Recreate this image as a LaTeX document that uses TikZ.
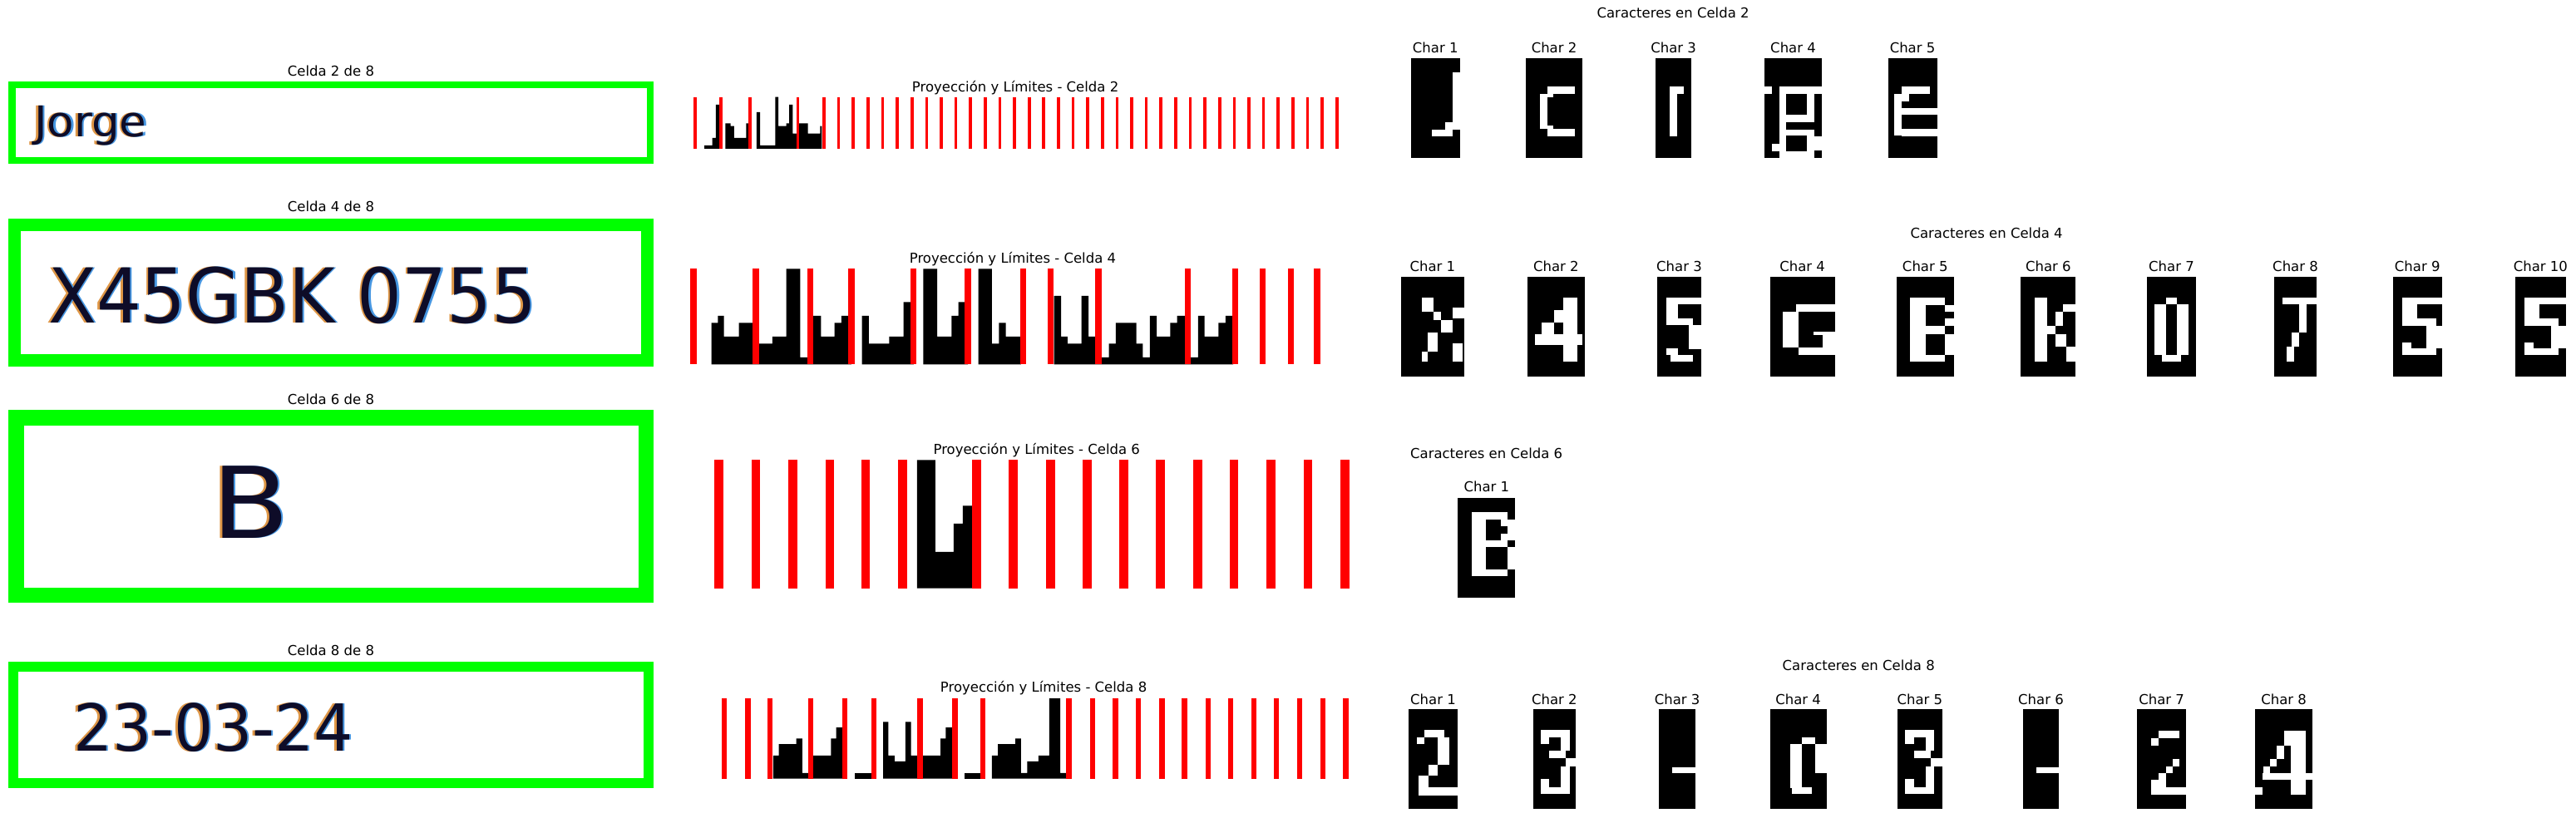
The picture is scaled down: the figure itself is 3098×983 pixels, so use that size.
\documentclass[tikz,border=0pt]{standalone}
\usepackage{fontspec}
\setmainfont{DejaVu Sans}
\definecolor{grn}{RGB}{0,255,0}
\definecolor{rd}{RGB}{255,0,0}
\definecolor{ink}{RGB}{14,12,40}
\definecolor{fringeo}{RGB}{222,150,70}
\definecolor{fringeb}{RGB}{70,150,225}
\tikzset{
  ttl/.style={font=\fontsize{16.5}{19}\selectfont, inner sep=0pt, anchor=base, text=black},
  cellframe/.style={draw=grn},
  bar/.style={fill=black},
  redline/.style={fill=rd}
}
\newcommand\cttext[6]{%
  \node[anchor=base west, inner sep=0pt, text=fringeo, font=\fontsize{#4}{#4}\selectfont] (#1o) at (#2-2.5,#3) {\scalebox{#5}[1]{#6}};
  \node[anchor=base west, inner sep=0pt, text=fringeb, font=\fontsize{#4}{#4}\selectfont] (#1b) at (#2+2.5,#3) {\scalebox{#5}[1]{#6}};
  \node[anchor=base west, inner sep=0pt, text=ink, font=\fontsize{#4}{#4}\selectfont] (#1) at (#2,#3) {\scalebox{#5}[1]{#6}};
}
\newcommand\glyph[5]{\fill[black] (#1,#2) rectangle (#3,#4);
  \foreach \a/\b/\c/\d in {#5} {\fill[white] (\a,\b) rectangle (\c,\d);}}
\begin{document}
\begin{tikzpicture}[x=1pt,y=-1pt]
\path[use as bounding box, fill=white] (0,0) rectangle (3098,983);

% ---------------- column 1 : cells ----------------
\node[ttl] (t2) at (398,91) {Celda 2 de 8};
\draw[cellframe, line width=8.5pt] (14.25,101.95) rectangle (781.75,193.05);
\cttext{jorge}{41}{164}{51}{1.04}{Jorge}

\node[ttl] (t4) at (398,254) {Celda 4 de 8};
\draw[cellframe, line width=15pt] (17.5,270.2) rectangle (778.5,433.2);
\cttext{plate}{58}{388}{91}{0.93}{X45GBK 0755}

\node[ttl] (t6) at (398,486) {Celda 6 de 8};
\draw[cellframe, line width=18.5pt] (19.25,502.25) rectangle (776.75,715.75);
\cttext{bee}{254}{647}{119}{1.15}{B}

\node[ttl] (t8) at (398,788.7) {Celda 8 de 8};
\draw[cellframe, line width=12pt] (16,802) rectangle (780,941.7);
\cttext{date}{88}{903}{78}{0.95}{23-03-24}

% ---------------- column 2 : projections ----------------
% plot 1
\begin{scope}[shift={(820pt,-80pt)}, x=0.523pt, y=-0.3333pt]
\node[ttl] (p2) at (767,92) {Proyección y Límites - Celda 2};
\fill[bar] (52,297) |- (70,285) |- (78,258) |- (92,138) -- (92,297) -- cycle;
\fill[bar] (100,297) |- (112,205) |- (120,215) |- (148,258) |- (155,205) -- (155,297) -- cycle;
\fill[bar] (172,297) |- (180,165) |- (215,285) |- (222,110) |- (240,215) |- (247,205) |- (255,138) |- (265,242) |- (290,205) |- (318,242) |- (322,215) -- (322,297) -- cycle;
\foreach \xx in {30,90,157,267} \fill[redline] (\xx-3.5,110) rectangle (\xx+3.5,297);
\foreach \i in {0,...,35} \fill[redline] ({327+33.69*\i-3.5},110) rectangle ({327+33.69*\i+3.5},297);
\end{scope}

% plot 2
\begin{scope}[shift={(820pt,-280pt)}, x=0.523pt, y=-0.3333pt]
\node[ttl] (p4) at (761,108) {Proyección y Límites - Celda 4};
\fill[bar] (68,475) |- (83,325) |- (97,300) |- (131,375) |- (170,325) |- (208,400) |- (240,375) |- (272,130) |- (295,450) |- (320,300) |- (351,375) |- (367,325) |- (390,300) -- (390,475) -- cycle;
\fill[bar] (414,475) |- (430,300) |- (477,400) |- (510,375) |- (533,250) -- (533,475) -- cycle;
\fill[bar] (555,475) |- (587,130) |- (620,375) |- (636,300) |- (658,250) -- (658,475) -- cycle;
\fill[bar] (682,475) |- (713,130) |- (729,400) |- (745,325) |- (780,375) -- (780,475) -- cycle;
\fill[bar] (856,475) |- (872,228) |- (887,375) |- (919,400) |- (935,228) |- (958,375) |- (982,450) |- (998,400) |- (1045,325) |- (1060,400) |- (1076,450) |- (1092,300) |- (1123,375) |- (1139,325) |- (1163,300) |- (1187,450) |- (1202,300) |- (1234,375) |- (1250,325) |- (1268,300) -- (1268,475) -- cycle;
\foreach \xx in {27,170,295,390,533,658,785,848,958,1163,1273,1335,1400,1461} \fill[redline] (\xx-7,130) rectangle (\xx+7,475);
\end{scope}

% plot 3
\begin{scope}[shift={(820pt,-520pt)}, x=0.523pt, y=-0.3333pt]
\node[ttl] (p6) at (816,78) {Proyección y Límites - Celda 6};
\fill[bar] (541,563) |- (583,100) |- (625,432) |- (646,330) |- (670,265) -- (670,563) -- cycle;
\foreach \xx in {85,170,255,340,423,508,678,762,848,932,1016,1100,1186,1270,1355,1440,1525} \fill[redline] (\xx-10,100) rectangle (\xx+10,563);
\end{scope}

% plot 4
\begin{scope}[shift={(820pt,-780pt)}, x=0.523pt, y=-0.3333pt]
\node[ttl] (p8) at (832,158) {Proyección y Límites - Celda 8};
\fill[bar] (210,470) |- (223,387) |- (263,345) |- (277,325) |- (297,450) |- (343,387) |- (355,325) |- (370,285) -- (370,470) -- cycle;
\fill[bar] (397,470) |- (437,450) -- (437,470) -- cycle;
\fill[bar] (463,470) |- (475,265) |- (489,387) |- (514,408) |- (527,265) |- (548,387) |- (595,387) |- (607,325) |- (622,285) -- (622,470) -- cycle;
\fill[bar] (650,470) |- (688,450) -- (688,470) -- cycle;
\fill[bar] (713,470) |- (727,387) |- (767,345) |- (780,325) |- (794,450) |- (820,408) |- (845,387) |- (870,180) |- (886,450) -- (886,470) -- cycle;
\foreach \xx in {97,152,203,297,375,441,548,628,692,890,945,997,1050,1104,1156,1210,1262,1315,1367,1420,1474,1527} \fill[redline] (\xx-6,180) rectangle (\xx+6,470);
\end{scope}

% ---------------- column 3 : characters ----------------
% row 1
\begin{scope}[shift={(1680pt,0pt)}, x=0.4464pt, y=-0.3333pt]
\node[ttl] (k2) at (744,65) {Caracteres en Celda 2};
\node[ttl] (k2c1) at (103.5,190) {Char 1};
\node[ttl] (k2c2) at (423.5,190) {Char 2};
\node[ttl] (k2c3) at (745,190) {Char 3};
\node[ttl] (k2c4) at (1067.5,190) {Char 4};
\node[ttl] (k2c5) at (1389,190) {Char 5};
\glyph{37}{210}{170}{570}{150/262/170/467, 130/440/150/467, 95/467/150/492}
\glyph{347}{210}{500}{570}{405/313/480/338, 385/338/405/465, 405/338/422/352, 405/452/422/465, 405/465/480/492}
\glyph{697}{210}{793}{570}{735/313/755/492, 755/313/772/338}
\glyph{990}{210}{1145}{570}{990/313/1010/338, 1030/313/1048/545, 1048/313/1145/338, 1105/338/1125/440, 1048/415/1105/440, 1048/467/1125/490, 1105/490/1125/545, 1125/492/1145/543, 1010/520/1030/545, 1030/545/1125/570}
\glyph{1323}{210}{1455}{570}{1360/313/1435/338, 1340/338/1360/490, 1360/338/1380/365, 1360/390/1455/415, 1360/465/1455/492}
\end{scope}

% row 2
\begin{scope}[shift={(1660pt,-260pt)}, x=0.9171pt, y=-0.3333pt]
\node[ttl] (k4) at (795,78) {Caracteres en Celda 4};
\foreach \cx/\n in {68.5/1,230.5/2,392/3,553.5/4,714.5/5,876/6,1037.5/7,1200/8,1360/9,1521.5/10}
  \node[ttl] (k4c\n) at (\cx,200) {Char \n};
\glyph{27}{218}{110}{578}{55/295/70/345, 70/345/80/375, 95/330/110/370, 80/375/95/420, 62/420/75/490, 55/490/62/525, 95/460/108/525}
\glyph{193}{218}{268}{578}{240/295/258/525, 228/340/240/385, 212/385/228/425, 203/425/265/465}
\glyph{363}{218}{421}{578}{375/295/421/318, 375/318/390/392, 390/368/410/392, 405/392/421/480, 375/478/390/500, 380/500/410/525}
\glyph{511}{218}{596}{578}{545/318/596/345, 528/345/548/475, 548/475/596/500, 568/418/596/430, 580/430/596/475}
\glyph{677}{218}{752}{578}{695/295/715/525, 715/295/740/320, 740/320/752/345, 740/370/752/395, 715/395/740/425, 740/425/752/500, 715/500/740/525}
\glyph{840}{218}{912}{578}{858/295/875/525, 895/318/912/345, 885/345/895/395, 875/395/885/425, 885/425/900/470, 900/470/912/525}
\glyph{1005}{218}{1070}{578}{1015/318/1030/500, 1045/318/1060/500, 1030/295/1045/318, 1025/500/1050/525}
\glyph{1172}{218}{1228}{578}{1183/295/1228/318, 1205/318/1215/420, 1195/420/1205/470, 1188/470/1198/525}
\glyph{1328}{218}{1392}{578}{1340/295/1392/318, 1340/318/1360/395, 1360/370/1385/395, 1372/395/1392/478, 1340/478/1385/500, 1340/455/1352/478}
\glyph{1488}{218}{1555}{578}{1500/295/1555/318, 1500/318/1520/395, 1520/370/1545/395, 1535/395/1555/478, 1500/478/1545/500, 1500/455/1512/478}
\end{scope}

% row 3
\begin{scope}[shift={(1660pt,-520pt)}, x=0.3333pt, y=-0.3333pt]
\node[ttl] (k6) at (383,95) {Caracteres en Celda 6};
\node[ttl] (k6c1) at (383.5,215) {Char 1};
\glyph{280}{238}{487}{597}{330/288/382/518, 382/288/460/315, 460/315/487/390, 436/315/460/340, 436/365/460/390, 382/390/460/415, 460/415/487/495, 382/495/460/518}
\end{scope}

% row 4
\begin{scope}[shift={(1660pt,-780pt)}, x=0.7015pt, y=-0.3333pt]
\node[ttl] (k8) at (820,78) {Caracteres en Celda 8};
\foreach \cx/\n in {90.5/1,298.5/2,509/3,716.5/4,925/5,1132.5/6}
  \node[ttl] (k8c\n) at (\cx,203) {Char \n};
\glyph{48}{218}{133}{578}{75/295/110/320, 62/320/75/345, 98/320/118/420, 83/420/98/460, 65/460/83/500, 65/500/133/530}
\glyph{262}{218}{335}{578}{275/295/325/320, 275/320/290/345, 310/320/325/370, 290/370/318/395, 318/395/335/425, 310/425/325/500, 275/500/325/525, 275/470/290/500}
\glyph{478}{218}{540}{578}{500/430/540/450}
\glyph{668}{218}{765}{578}{703/345/722/505, 722/320/745/345, 745/345/765/450, 705/500/740/525}
\glyph{887}{218}{963}{578}{900/295/950/320, 900/320/915/345, 935/320/950/370, 915/370/943/395, 943/395/963/425, 935/425/950/500, 900/500/950/525, 900/470/915/500}
\glyph{1102}{218}{1163}{578}{1125/430/1163/450}
\end{scope}
\begin{scope}[shift={(2500pt,-820pt)}, x=0.3333pt, y=-0.3333pt]
\node[ttl] (k8c7) at (299,82) {Char 7};
\node[ttl] (k8c8) at (740,82) {Char 8};
\glyph{210}{100}{388}{458}{288/178/362/205, 262/205/288/230, 338/280/362/305, 315/305/340/330, 288/330/315/355, 262/355/288/408, 262/380/388/408, 288/355/315/380}
\glyph{637}{100}{843}{458}{765/178/818/408, 740/178/765/230, 715/230/740/280, 690/280/715/305, 665/305/690/330, 663/330/843/355, 637/380/663/408}
\end{scope}
\end{tikzpicture}
\end{document}
